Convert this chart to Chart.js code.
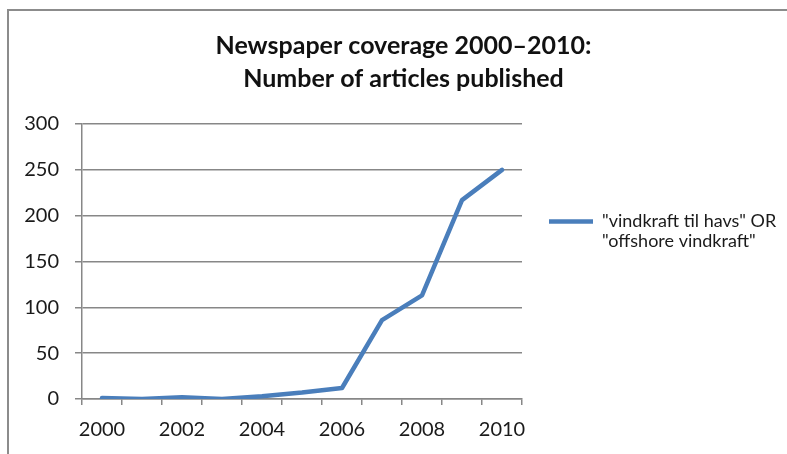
<!DOCTYPE html>
<html>
<head>
<meta charset="utf-8">
<script src="https://cdn.jsdelivr.net/npm/chart.js@4.4.0/dist/chart.umd.min.js"></script>
<style>
  html, body { margin: 0; padding: 0; background: #fff; }
  #wrap { width: 787px; height: 454px; position: relative; }
</style>
</head>
<body>
<div id="wrap"><canvas id="chart"></canvas></div>
<script>
// data
const years = ['2000', '2001', '2002', '2003', '2004', '2005', '2006', '2007', '2008', '2009', '2010'];
const articles = [1, 0, 2, 0, 3, 7, 12, 86, 113, 217, 250];
const seriesLabel = ['"vindkraft til havs" OR', '"offshore vindkraft"'];
const titleLines = ['Newspaper coverage 2000\u20132010:', 'Number of articles published'];

const fontFamily = 'Lato, "Open Sans", sans-serif';
const gridColor = '#878787';
const yAxisWidth = 62;
const legendWidth = 265;

// grey frame of the chart object (left and top edges visible)
const framePlugin = {
  id: 'frame',
  beforeDraw(chart) {
    const ctx = chart.ctx;
    ctx.save();
    ctx.fillStyle = '#fff';
    ctx.fillRect(0, 0, chart.width, chart.height);
    ctx.strokeStyle = '#8c8c8c';
    ctx.lineWidth = 2;
    ctx.beginPath();
    ctx.moveTo(8, chart.height + 5);
    ctx.lineTo(8, 10);
    ctx.lineTo(chart.width + 5, 10);
    ctx.stroke();
    ctx.restore();
  }
};

// fixed width for the legend column on the right
const legendWidthPlugin = {
  id: 'legendWidth',
  afterInit(chart) {
    const legend = chart.legend;
    const fit = legend.fit;
    legend.fit = function () {
      fit.call(this);
      this.width = legendWidth;
    };
  }
};

new Chart(document.getElementById('chart'), {
  type: 'line',
  data: {
    labels: years,
    datasets: [{
      label: seriesLabel,
      data: articles,
      borderColor: '#4a7ebb',
      backgroundColor: '#4a7ebb',
      borderWidth: 4.5,
      borderCapStyle: 'round',
      borderJoinStyle: 'round',
      pointRadius: 0,
      tension: 0
    }]
  },
  options: {
    responsive: true,
    maintainAspectRatio: false,
    animation: false,
    layout: { padding: { top: 0, left: 20, right: 0, bottom: -1 } },
    plugins: {
      title: {
        display: true,
        text: titleLines,
        color: '#111',
        font: { family: fontFamily, size: 25, weight: 'bold', lineHeight: 33.5 / 25 },
        padding: { top: 29, bottom: 28 }
      },
      legend: {
        position: 'right',
        align: 'start',
        title: { display: true, text: '', padding: { top: 171, bottom: 0 } },
        labels: {
          usePointStyle: true,
          pointStyle: 'line',
          pointStyleWidth: 44,
          padding: 27,
          color: '#1a1a1a',
          font: { family: fontFamily, size: 18, lineHeight: 20 / 18 }
        }
      },
      tooltip: { enabled: false }
    },
    scales: {
      x: {
        offset: true,
        grid: {
          offset: true,
          drawOnChartArea: false,
          drawTicks: true,
          tickLength: 6,
          color: gridColor,
          lineWidth: 1.5
        },
        border: { color: gridColor, width: 1.5 },
        ticks: {
          autoSkip: false,
          maxRotation: 0,
          padding: 13,
          color: '#1a1a1a',
          font: { family: fontFamily, size: 20 },
          callback: function (value, index) {
            return index % 2 === 0 ? this.getLabelForValue(value) : '';
          }
        }
      },
      y: {
        min: 0,
        max: 300,
        afterFit(scale) { scale.width = yAxisWidth; },
        ticks: {
          stepSize: 50,
          padding: 16,
          color: '#1a1a1a',
          font: { family: fontFamily, size: 20 }
        },
        grid: { color: gridColor, lineWidth: 1.5, tickLength: 7 },
        border: { color: gridColor, width: 1.5 }
      }
    }
  },
  plugins: [framePlugin, legendWidthPlugin]
});
</script>
</body>
</html>
